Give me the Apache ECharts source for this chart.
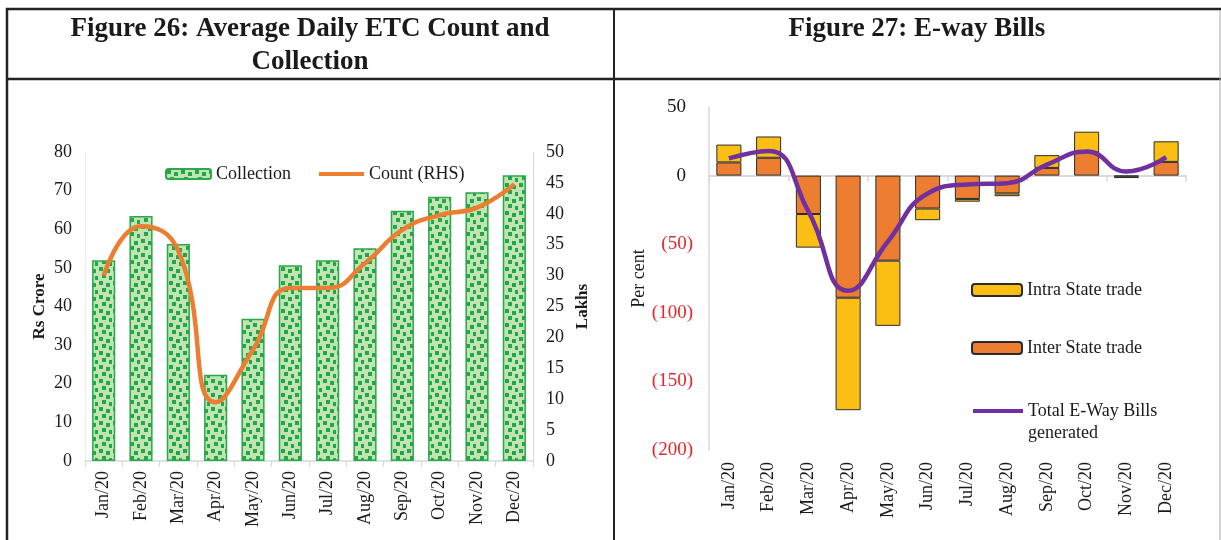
<!DOCTYPE html>
<html>
<head>
<meta charset="utf-8">
<script src="https://cdn.jsdelivr.net/npm/echarts@6/dist/echarts.min.js"></script>
<style>
  html, body { margin: 0; padding: 0; background: #fff; }
  #chart { width: 1221px; height: 540px; }
</style>
</head>
<body>
<div id="chart"></div>
<script>
// Months shared by both panels
const months = ['Jan/20', 'Feb/20', 'Mar/20', 'Apr/20', 'May/20', 'Jun/20',
                'Jul/20', 'Aug/20', 'Sep/20', 'Oct/20', 'Nov/20', 'Dec/20'];

// Figure 26: average daily ETC collection (Rs crore) and count (lakhs, RHS)
const etcCollection = [52, 63.4, 56.2, 22.3, 36.8, 50.7, 52, 55.1, 64.8, 68.4, 69.6, 74];
const etcCount = [30, 38, 34, 9.5, 18, 28, 28, 32, 37.4, 39.8, 41, 44.8];

// Figure 27: E-way bills growth (per cent)
const interState = [9.6, 13, -28, -89, -62, -24, -17, -13, 5.6, 17, -0.6, 10];
const intraState = [13, 15.5, -24.5, -82, -47.5, -8.5, -2, -2, 9.3, 15, -1.2, 15];
const totalEwb = [12.5, 18, -26, -84, -48, -13, -6.5, -5.5, 8, 17.5, 3, 13.5];

const FONT = 'Liberation Serif, Times New Roman, serif';
const TXT = '#1a1a1a';

// Confetti-style green fill for the collection bars
function dottedPattern() {
  const c = document.createElement('canvas');
  c.width = 14; c.height = 14;
  const g = c.getContext('2d');
  g.fillStyle = '#c3e3b2';
  g.fillRect(0, 0, 14, 14);
  g.fillStyle = '#1ea84a';
  g.fillRect(1, 1, 4, 4);
  g.fillRect(8, 3, 4, 4);
  g.fillRect(4, 8, 4, 4);
  g.fillRect(11, 10, 3, 4);
  return c;
}

const chart = echarts.init(document.getElementById('chart'), null, { renderer: 'canvas' });

const axisGray = '#d9d9d9';

const option = {
  animation: false,
  backgroundColor: '#fff',
  textStyle: { fontFamily: FONT },
  graphic: [
    // table frame
    { type: 'line', shape: { x1: 6, y1: 9, x2: 1221, y2: 9 }, style: { stroke: '#222', lineWidth: 2.5 } },
    { type: 'line', shape: { x1: 6, y1: 79, x2: 1221, y2: 79 }, style: { stroke: '#222', lineWidth: 2.5 } },
    { type: 'line', shape: { x1: 7, y1: 8, x2: 7, y2: 540 }, style: { stroke: '#222', lineWidth: 2.5 } },
    { type: 'line', shape: { x1: 614, y1: 8, x2: 614, y2: 540 }, style: { stroke: '#222', lineWidth: 2 } },
    { type: 'line', shape: { x1: 1220, y1: 10, x2: 1220, y2: 540 }, style: { stroke: '#aaa', lineWidth: 1 } },
    // headings
    { type: 'text', x: 310, y: 46, style: { text: 'Figure 26: Average Daily ETC Count and\nCollection', font: 'bold 27px ' + FONT, fill: TXT, align: 'center', verticalAlign: 'middle', lineHeight: 33 } },
    { type: 'text', x: 917, y: 29, style: { text: 'Figure 27: E-way Bills', font: 'bold 27px ' + FONT, fill: TXT, align: 'center', verticalAlign: 'middle' } }
  ],
  legend: [
    {
      data: [
        'Collection',
        { name: 'Count (RHS)', itemStyle: { opacity: 0 } }
      ],
      left: 160, top: 160,
      itemWidth: 45, itemHeight: 10, itemGap: 26,
      lineStyle: { width: 4 },
      textStyle: { fontFamily: FONT, fontSize: 18, color: TXT }
    },
    {
      data: ['Intra State trade', 'Inter State trade'],
      orient: 'vertical',
      left: 966, top: 276,
      itemWidth: 50, itemHeight: 12, itemGap: 40,
      textStyle: { fontFamily: FONT, fontSize: 18, color: TXT }
    },
    {
      // blank first row keeps the line icon level with the first text row
      data: [{ name: 'Total E-Way Bills generated', itemStyle: { opacity: 0 } }],
      left: 966, top: 373,
      itemWidth: 50, itemHeight: 12,
      lineStyle: { width: 4 },
      formatter: () => '\u00a0\nTotal E-Way Bills\ngenerated',
      textStyle: { fontFamily: FONT, fontSize: 18, color: TXT, lineHeight: 22 }
    }
  ],
  grid: [
    { left: 85, right: 688, top: 152, bottom: 79 },
    { left: 709, right: 35, top: 107, bottom: 90 }
  ],
  xAxis: [
    {
      type: 'category', gridIndex: 0, data: months,
      axisLine: { lineStyle: { color: axisGray, width: 1.5 } },
      axisTick: { show: true, length: 6, lineStyle: { color: axisGray } },
      axisLabel: { rotate: 90, margin: 10, fontFamily: FONT, fontSize: 18, color: TXT }
    },
    {
      // zero line with ticks
      type: 'category', gridIndex: 1, data: months,
      axisLine: { onZero: true, lineStyle: { color: axisGray, width: 2 } },
      axisTick: { show: true, length: 6, lineStyle: { color: axisGray, width: 1.5 } },
      axisLabel: { show: false }
    },
    {
      // month labels along the bottom
      type: 'category', gridIndex: 1, data: months, position: 'bottom',
      axisLine: { show: false, onZero: false },
      axisTick: { show: false },
      axisLabel: { rotate: 90, margin: 12, fontFamily: FONT, fontSize: 18, color: TXT }
    }
  ],
  yAxis: [
    {
      type: 'value', gridIndex: 0, min: 0, max: 80, interval: 10,
      name: 'Rs Crore', nameLocation: 'middle', nameGap: 37,
      nameTextStyle: { fontFamily: FONT, fontSize: 17, fontWeight: 'bold', color: TXT },
      axisLine: { show: true, lineStyle: { color: '#eeeeee' } },
      axisTick: { show: false },
      splitLine: { show: false },
      axisLabel: { margin: 13, fontFamily: FONT, fontSize: 18, color: TXT }
    },
    {
      type: 'value', gridIndex: 0, min: 0, max: 50, interval: 5, position: 'right',
      name: 'Lakhs', nameLocation: 'middle', nameGap: 41,
      nameTextStyle: { fontFamily: FONT, fontSize: 17, fontWeight: 'bold', color: TXT },
      axisLine: { show: true, lineStyle: { color: axisGray } },
      axisTick: { show: false },
      splitLine: { show: false },
      axisLabel: { margin: 13, fontFamily: FONT, fontSize: 18, color: TXT }
    },
    {
      type: 'value', gridIndex: 1, min: -200, max: 50, interval: 50,
      name: 'Per cent', nameLocation: 'middle', nameGap: 59,
      nameTextStyle: { fontFamily: FONT, fontSize: 18, color: TXT },
      axisLine: { show: true, lineStyle: { color: axisGray, width: 1.5 } },
      axisTick: { show: false },
      splitLine: { show: false },
      axisLabel: {
        margin: 16, fontFamily: FONT, fontSize: 19,
        formatter: v => v < 0 ? '{n|(' + (-v) + ')}' : '{p|' + v + '}',
        rich: {
          n: { color: '#e8262b', fontFamily: FONT, fontSize: 19 },
          p: { color: TXT, fontFamily: FONT, fontSize: 19, padding: [0, 7, 0, 0] }
        }
      }
    }
  ],
  series: [
    {
      name: 'Collection', type: 'bar', xAxisIndex: 0, yAxisIndex: 0,
      data: etcCollection, barWidth: '62%',
      itemStyle: { color: { image: dottedPattern(), repeat: 'repeat' }, borderColor: '#2aa84a', borderWidth: 1.5 }
    },
    {
      name: 'Count (RHS)', type: 'line', xAxisIndex: 0, yAxisIndex: 1,
      data: etcCount, smooth: 0.5, symbol: 'none',
      lineStyle: { color: '#ed7d31', width: 4.5 },
      itemStyle: { color: '#ed7d31' }
    },
    {
      name: 'Inter State trade', type: 'bar', stack: 'ewb', xAxisIndex: 1, yAxisIndex: 2,
      data: interState, barWidth: '63%',
      itemStyle: { color: '#ed7d31', borderColor: '#2b2b2b', borderWidth: 1 }
    },
    {
      name: 'Intra State trade', type: 'bar', stack: 'ewb', xAxisIndex: 1, yAxisIndex: 2,
      data: intraState, barWidth: '63%',
      itemStyle: { color: '#fbbf14', borderColor: '#2b2b2b', borderWidth: 1 }
    },
    {
      name: 'Total E-Way Bills generated', type: 'line', xAxisIndex: 1, yAxisIndex: 2,
      data: totalEwb, smooth: 0.5, symbol: 'none', z: 5,
      lineStyle: { color: '#7030a0', width: 4.5 },
      itemStyle: { color: '#7030a0' }
    }
  ]
};

chart.setOption(option);
</script>
</body>
</html>
